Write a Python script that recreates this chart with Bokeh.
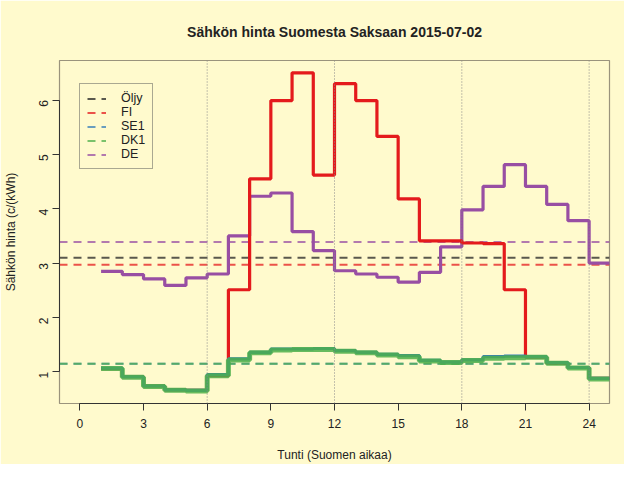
import math
from bokeh.plotting import figure
from bokeh.models import Span, Legend, LegendItem, FixedTicker, Range1d
from bokeh.embed import file_html
from bokeh.resources import INLINE

# ---- data ----
hours = list(range(1, 26))  # step start hours; last value repeated to draw final hour
fi = [1.06, 0.91, 0.74, 0.67, 0.66, 0.93, 2.51, 4.55, 5.99, 6.50, 4.62, 6.30,
      5.99, 5.33, 4.18, 3.41, 3.41, 3.37, 3.36, 2.51, 1.27, 1.16, 1.08, 0.88]
se1 = [1.07, 0.91, 0.74, 0.67, 0.66, 0.95, 1.24, 1.36, 1.42, 1.42, 1.43, 1.39,
       1.36, 1.32, 1.30, 1.21, 1.18, 1.22, 1.28, 1.29, 1.28, 1.17, 1.08, 0.88]
dk1 = [1.06, 0.90, 0.73, 0.66, 0.65, 0.93, 1.22, 1.35, 1.40, 1.41, 1.41, 1.38,
       1.35, 1.31, 1.28, 1.20, 1.17, 1.21, 1.25, 1.26, 1.27, 1.16, 1.07, 0.87]
de = [2.85, 2.79, 2.71, 2.59, 2.73, 2.80, 3.50, 4.23, 4.29, 3.58, 3.23, 2.86,
      2.80, 2.74, 2.65, 2.83, 3.30, 3.98, 4.41, 4.81, 4.41, 4.08, 3.78, 3.00]

mean_names = ["Öljy", "FI", "SE1", "DK1", "DE"]
mean_values = [3.10, 2.97, 1.15, 1.15, 3.39]
mean_colors = ["#222222", "#E41A1C", "#377EB8", "#4DAF4A", "#984EA3"]

x_ticks = [0, 3, 6, 9, 12, 15, 18, 21, 24]
y_ticks = [1, 2, 3, 4, 5, 6]
day_marks = [6, 12, 18, 24]

X_LIM = (-0.96, 24.96)
Y_LIM = (0.418, 6.727)

BG = "#FFFACD"
FONT = "Liberation Sans"

p = figure(width=624, height=464, output_backend="svg", toolbar_location=None,
           x_range=Range1d(*X_LIM), y_range=Range1d(*Y_LIM),
           min_border_left=59, min_border_right=15, min_border_top=59,
           min_border_bottom=58,
           title="Sähkön hinta Suomesta Saksaan 2015-07-02")
p.background_fill_color = BG
p.border_fill_color = BG
p.outline_line_color = "#9a937c"
p.outline_line_width = 1.2
p.grid.visible = False

p.title.align = "center"
p.title.text_font = FONT
p.title.text_font_size = "14px"
p.title.text_font_style = "bold"
p.title.text_color = "#222222"
p.title.standoff = 42

for ax, ticks in ((p.xaxis[0], x_ticks), (p.yaxis[0], y_ticks)):
    ax.ticker = FixedTicker(ticks=ticks)
    ax.bounds = (ticks[0], ticks[-1])
    ax.axis_line_color = "#333333"
    ax.major_tick_line_color = "#333333"
    ax.major_tick_out = 7
    ax.major_tick_in = 0
    ax.minor_tick_line_color = None
    ax.major_label_text_font = FONT
    ax.major_label_text_font_size = "12px"
    ax.major_label_text_color = "#222222"
    ax.axis_label_text_font = FONT
    ax.axis_label_text_font_size = "12px"
    ax.axis_label_text_font_style = "normal"
    ax.axis_label_text_color = "#222222"

p.xaxis.axis_label = "Tunti (Suomen aikaa)"
p.xaxis.major_label_standoff = 8
p.xaxis.axis_label_standoff = 17
p.yaxis.axis_label = "Sähkön hinta (c/(kWh)"
p.yaxis.major_label_orientation = math.pi / 2
p.yaxis.major_label_standoff = 9
p.yaxis.axis_label_standoff = 14

# vertical dotted lines at 6-hour marks
for h in day_marks:
    p.add_layout(Span(location=h, dimension="height", line_color="#888888",
                      line_dash="1 2", line_width=1))

# mean lines (full-width dashed), also used for the legend
items = []
for n, v, c in zip(mean_names, mean_values, mean_colors):
    r = p.line(list(X_LIM), [v, v], line_color=c, line_alpha=0.75,
               line_width=2, line_dash="8 6")
    items.append(LegendItem(label=n, renderers=[r]))

def ext(vals):
    return vals + [vals[-1]]

p.step(hours, ext(de), mode="after", line_color="#984EA3", line_width=3.2)
p.step(hours, ext(fi), mode="after", line_color="#E41A1C", line_width=3.2)
p.step(hours, ext(se1), mode="after", line_color="#377EB8", line_width=3.2)
p.step(hours, ext(dk1), mode="after", line_color="#4DAF4A", line_width=5,
       line_alpha=0.85)

legend = Legend(items=items, location=(20, 234))
legend.background_fill_color = BG
legend.background_fill_alpha = 1
legend.border_line_color = "#555555"
legend.border_line_width = 1
legend.label_text_font = FONT
legend.label_text_font_size = "12.5px"
legend.label_text_color = "#222222"
legend.glyph_width = 19
legend.glyph_height = 13
legend.label_height = 13
legend.label_standoff = 15
legend.spacing = 0
legend.padding = 7
legend.margin = 0
p.add_layout(legend, "center")

open("out.html", "w").write(file_html(p, INLINE))
